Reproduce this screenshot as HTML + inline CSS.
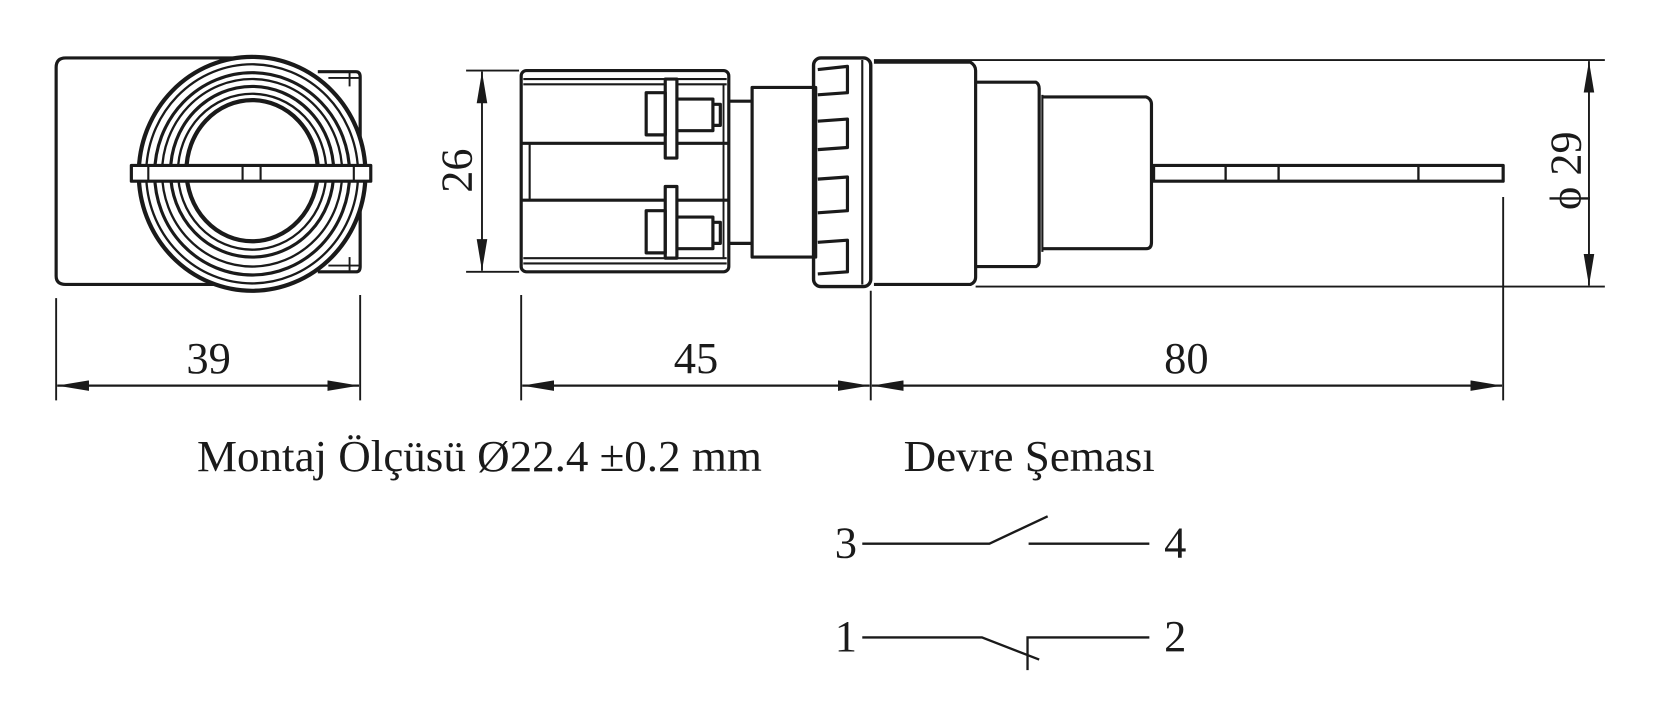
<!DOCTYPE html>
<html><head><meta charset="utf-8"><style>
html,body{margin:0;padding:0;background:#fff;}
svg{display:block;}
text{font-family:"Liberation Serif",serif;fill:#1a1a1a;}
</style></head><body>
<svg width="1661" height="727" viewBox="0 0 1568 690" preserveAspectRatio="none" xmlns="http://www.w3.org/2000/svg">
<defs>
<marker id="a" viewBox="0 0 30 10" refX="30" refY="5" markerWidth="30" markerHeight="10" markerUnits="userSpaceOnUse" orient="auto-start-reverse"><path d="M0,0 L30,5 L0,10 z" fill="#1a1a1a"/></marker>
</defs>
<g fill="none" stroke="#1a1a1a" stroke-width="3" stroke-linejoin="round">
<!-- front view -->
<path d="M232,55 H62 Q53,55 53,64 V262 Q53,270 62,270 H232"/>
<path d="M300,68 H336 Q340,68 340,73 V253 Q340,258 336,258 H300"/>
<line x1="310" y1="74" x2="340" y2="74" stroke-width="1.8"/>
<line x1="310" y1="252" x2="340" y2="252" stroke-width="1.8"/>
<line x1="330" y1="68" x2="330" y2="82" stroke-width="1.8"/>
<line x1="330" y1="244" x2="330" y2="258" stroke-width="1.8"/>
<ellipse cx="238" cy="165" rx="107" ry="111" fill="#fff" stroke-width="4"/>
<ellipse cx="238" cy="165" rx="100" ry="104" stroke-width="2.2"/>
<ellipse cx="238" cy="165" rx="92" ry="96" stroke-width="3"/>
<ellipse cx="238" cy="164" rx="85" ry="89" stroke-width="2.2"/>
<ellipse cx="238" cy="163" rx="77" ry="81" stroke-width="3"/>
<ellipse cx="238" cy="163" rx="70" ry="74" stroke-width="2.2"/>
<ellipse cx="238" cy="162" rx="62" ry="67" stroke-width="4"/>
<rect x="124" y="157" width="226" height="15" fill="#fff" stroke-width="3"/>
<line x1="140" y1="157" x2="140" y2="172" stroke-width="2"/>
<line x1="334" y1="157" x2="334" y2="172" stroke-width="2"/>
<line x1="229" y1="157" x2="229" y2="172" stroke-width="2"/>
<line x1="246" y1="157" x2="246" y2="172" stroke-width="2"/>
<!-- side view -->
<rect x="492" y="67" width="196" height="191" rx="5"/>
<line x1="494" y1="75" x2="686" y2="75" stroke-width="2"/>
<line x1="494" y1="80" x2="686" y2="80" stroke-width="2"/>
<line x1="494" y1="245" x2="686" y2="245" stroke-width="2"/>
<line x1="494" y1="250" x2="686" y2="250" stroke-width="2"/>
<line x1="492" y1="136" x2="688" y2="136"/>
<line x1="492" y1="190" x2="688" y2="190"/>
<line x1="500" y1="136" x2="500" y2="190" stroke-width="2"/>
<line x1="683" y1="80" x2="683" y2="245" stroke-width="1.8"/>
<rect x="628" y="75" width="11" height="75" fill="#fff"/>
<rect x="628" y="177" width="11" height="68" fill="#fff"/>
<rect x="610" y="88" width="18" height="40"/>
<rect x="610" y="200" width="18" height="40"/>
<path d="M639,94 H673 V124 H639 M673,99 H680 V119 H673"/>
<path d="M639,206 H673 V236 H639 M673,211 H680 V231 H673"/>
<path d="M688,96 H710 M688,231 H710"/>
<rect x="710" y="83" width="60" height="161"/>
<!-- flange -->
<rect x="768" y="55" width="54" height="217" rx="7" stroke-width="3.2"/>
<line x1="814" y1="57" x2="814" y2="270" stroke-width="2"/>
<g stroke-width="3">
<path d="M772,66 L800,63 V88 L772,90"/><path d="M772,115 L800,113 V140 L772,142"/>
<path d="M772,170 L800,168 V200 L772,202"/><path d="M772,230 L800,228 V258 L772,260"/>
</g>
<!-- body -->
<path d="M825,59 H916 Q921,62 921,67 V263 Q921,268 916,270 H825"/>
<path d="M921,78 H978 Q981,80 981,84 V248 Q981,252 978,253 H921"/>
<line x1="984" y1="90" x2="984" y2="239" stroke-width="2"/>
<path d="M984,92 H1082 Q1087,94 1087,99 V230 Q1087,236 1082,236 H984"/>
<rect x="1089" y="157" width="330" height="15"/>
<line x1="1157" y1="157" x2="1157" y2="172" stroke-width="2.2"/>
<line x1="1207" y1="157" x2="1207" y2="172" stroke-width="2.2"/>
<line x1="1339" y1="157" x2="1339" y2="172" stroke-width="2.2"/>
</g>
<g fill="none" stroke="#1a1a1a" stroke-width="1.8">
<!-- dims -->
<line x1="440" y1="67" x2="490" y2="67"/><line x1="440" y1="258" x2="490" y2="258"/>
<line x1="455" y1="68" x2="455" y2="257" marker-start="url(#a)" marker-end="url(#a)"/>
<line x1="825" y1="57" x2="1515" y2="57"/><line x1="921" y1="272" x2="1515" y2="272"/>
<line x1="1500" y1="58" x2="1500" y2="271" marker-start="url(#a)" marker-end="url(#a)"/>
<line x1="53" y1="283" x2="53" y2="380"/><line x1="340" y1="280" x2="340" y2="380"/>
<line x1="492" y1="280" x2="492" y2="380"/><line x1="822" y1="276" x2="822" y2="380"/>
<line x1="1419" y1="187" x2="1419" y2="380"/>
<line x1="54" y1="366" x2="339" y2="366" stroke-width="2.2" marker-start="url(#a)" marker-end="url(#a)"/>
<line x1="493" y1="366" x2="821" y2="366" stroke-width="2.2" marker-start="url(#a)" marker-end="url(#a)"/>
<line x1="823" y1="366" x2="1418" y2="366" stroke-width="2.2" marker-start="url(#a)" marker-end="url(#a)"/>
<!-- schematic -->
<g stroke-width="2.2">
<path d="M814,516 H934 L989,490"/><path d="M971,516 H1085"/>
<path d="M814,605 H927 L981,626"/><path d="M970,636 V605 H1085"/>
</g>
</g>
<text x="197" y="354" font-size="42" text-anchor="middle">39</text>
<text x="657" y="354" font-size="42" text-anchor="middle">45</text>
<text x="1120" y="354" font-size="42" text-anchor="middle">80</text>
<text transform="translate(445,162) rotate(-90)" font-size="42" text-anchor="middle">26</text>
<text transform="translate(1492,162) rotate(-90)" font-size="42" text-anchor="middle">ϕ 29</text>
<text x="186" y="447" font-size="42.5">Montaj Ölçüsü Ø22.4 ±0.2 mm</text>
<text x="853" y="447" font-size="42.5">Devre Şeması</text>
<text x="788" y="529" font-size="42">3</text>
<text x="1099" y="529" font-size="42">4</text>
<text x="788" y="618" font-size="42">1</text>
<text x="1099" y="618" font-size="42">2</text>
</svg>
</body></html>
